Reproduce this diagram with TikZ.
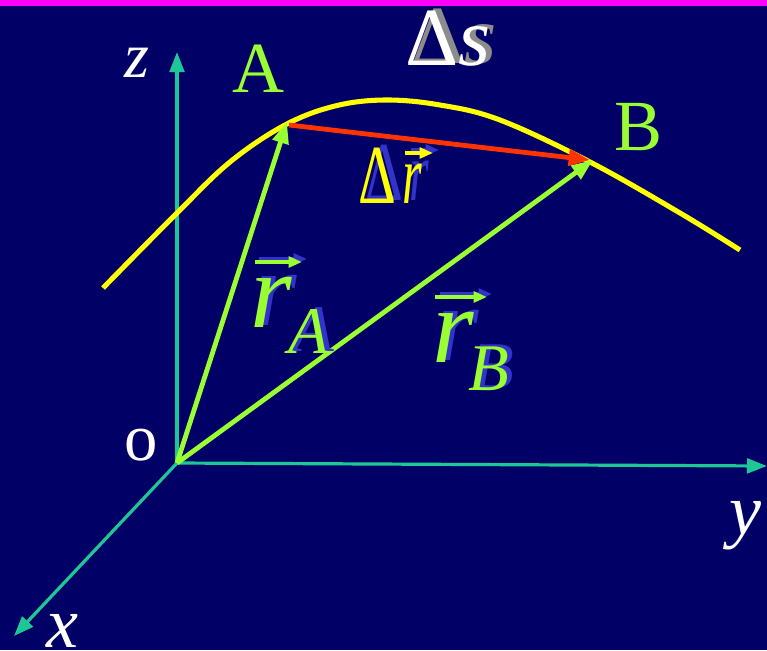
\documentclass[tikz,border=0pt]{standalone}
\usepackage{fontspec}
\setmainfont{Liberation Serif}
\usetikzlibrary{arrows.meta}
\definecolor{navy}{HTML}{000066}
\definecolor{topline}{HTML}{FF00FF}
\definecolor{axisteal}{RGB}{30,200,150}
\definecolor{vecgreen}{HTML}{99FF33}
\definecolor{curveyellow}{HTML}{FFFF00}
\definecolor{vecred}{HTML}{FF3300}
\definecolor{shadowblue}{HTML}{3333CC}
\definecolor{shadowgray}{HTML}{8C8C8C}
\begin{document}
\begin{tikzpicture}[x=0.75pt,y=-0.75pt,
  axisline/.style={draw=axisteal, line width=2.4pt, -{Triangle[length=15pt,width=11pt]}},
  vecline/.style={draw=vecgreen, line width=3.6pt, -{Triangle[length=16pt,width=12pt]}},
  redline/.style={draw=vecred, line width=3.6pt, -{Triangle[length=16pt,width=12pt]}},
  curveline/.style={draw=curveyellow, line width=3.8pt},
  smallarrow/.style={line width=2.6pt, -{Triangle[length=10pt,width=8pt]}},
  lbl/.style={inner sep=0pt, anchor=base west, font=\fontsize{54}{54}\selectfont},
  axlbl/.style={inner sep=0pt, anchor=base west, font=\fontsize{54}{54}\selectfont\itshape},
  biglbl/.style={inner sep=0pt, anchor=base west, font=\fontsize{80}{80}\selectfont\itshape},
  sublbl/.style={inner sep=0pt, anchor=base west, font=\fontsize{50}{50}\selectfont\itshape},
  midlbl/.style={inner sep=0pt, anchor=base west, font=\fontsize{62}{62}\selectfont},
  drlbl/.style={inner sep=0pt, anchor=base west, font=\fontsize{63}{63}\selectfont}
]
\useasboundingbox (0,0) rectangle (767,650);
\fill[navy] (0,0) rectangle (767,650);
\fill[topline] (0,0) rectangle (767,6);

% points
\coordinate (O) at (177,463);
\coordinate (Ztip) at (177,52);
\coordinate (Ytip) at (767,466);
\coordinate (Xtip) at (14,636);
\coordinate (A) at (287,122);
\coordinate (B) at (593,160);
\coordinate (Astart) at (289,125);
\coordinate (Bend) at (590,160);

% axes
\draw[axisline] (O) -- (Ztip);
\draw[axisline] (O) -- (Ytip);
\draw[axisline] (O) -- (Xtip);

% trajectory
\draw[curveline] plot[smooth, tension=0.6] coordinates
  {(103,288) (177,213) (230,162) (285,125) (335,106) (385,100) (440,105) (500,120) (590,162) (680,213) (740,250)};

% vectors
\draw[vecline] (O) -- (A);
\draw[vecline] (O) -- (B);
\draw[redline] (Astart) -- (Bend);

% axis labels
\node[axlbl, text=white, font=\fontsize{48}{48}\selectfont\itshape] (zl) at (124,77) {z};
\node[axlbl, text=white] (yl) at (729,534) {y};
\node[axlbl, text=white] (xl) at (46,647) {x};
\node[lbl, text=white, font=\fontsize{50}{50}\selectfont] (ol) at (124,460) {o};
\node[lbl, text=vecgreen] (Al) at (232,92) {A};
\node[lbl, text=vecgreen] (Bl) at (614,150) {B};

% Delta s
\node[midlbl, text=shadowgray] (dss) at (411,63) {Δ};
\node[midlbl, text=shadowgray] (sss) at (464,63) {\itshape s};
\node[midlbl, text=white] (ds) at (405,65) {Δ};
\node[midlbl, text=white] (ss) at (458,65) {\itshape s};

% Delta r
\node[drlbl, text=shadowblue, xscale=0.7] (drs) at (365,200) {Δ};
\node[drlbl, text=shadowblue, xscale=0.6] (rrs) at (409,200) {\itshape r};
\coordinate (dra1) at (411,150);
\coordinate (dra2) at (439,150);
\draw[smallarrow, draw=shadowblue] (dra1) -- (dra2);
\node[drlbl, text=curveyellow, xscale=0.7] (dr) at (358,203) {Δ};
\node[drlbl, text=curveyellow, xscale=0.6] (rr) at (402,203) {\itshape r};
\coordinate (drb1) at (405,153);
\coordinate (drb2) at (433,153);
\draw[smallarrow, draw=curveyellow] (drb1) -- (drb2);

% r_A
\node[biglbl, text=shadowblue] (rAs) at (255,325) {r};
\node[sublbl, text=shadowblue] (sAs) at (293,351) {A};
\coordinate (ra1) at (259,259);
\coordinate (ra2) at (307,259);
\draw[smallarrow, draw=shadowblue] (ra1) -- (ra2);
\node[biglbl, text=vecgreen] (rA) at (250,327) {r};
\node[sublbl, text=vecgreen] (sA) at (288,353) {A};
\coordinate (rb1) at (255,262);
\coordinate (rb2) at (302,262);
\draw[smallarrow, draw=vecgreen] (rb1) -- (rb2);

% r_B
\node[biglbl, text=shadowblue] (rBs) at (437,360) {r};
\node[sublbl, text=shadowblue] (sBs) at (473,388) {B};
\coordinate (rc1) at (440,294);
\coordinate (rc2) at (492,294);
\draw[smallarrow, draw=shadowblue] (rc1) -- (rc2);
\node[biglbl, text=vecgreen] (rB) at (432,362) {r};
\node[sublbl, text=vecgreen] (sB) at (468,390) {B};
\coordinate (rd1) at (435,297);
\coordinate (rd2) at (487,297);
\draw[smallarrow, draw=vecgreen] (rd1) -- (rd2);
\end{tikzpicture}
\end{document}
